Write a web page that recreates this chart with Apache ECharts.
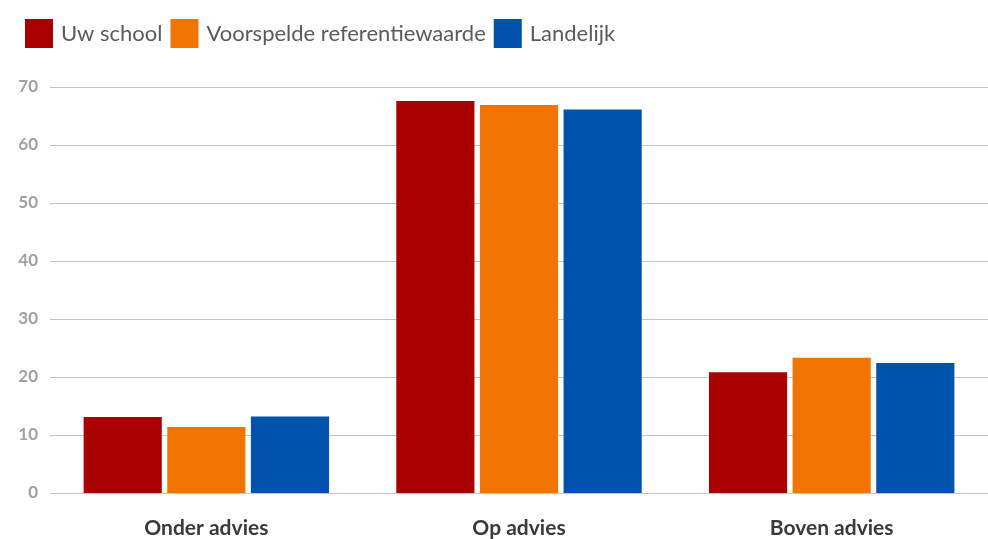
<!DOCTYPE html>
<html><head><meta charset="utf-8">
<script src="https://cdn.jsdelivr.net/npm/echarts@6/dist/echarts.min.js"></script>
<style>html,body{margin:0;padding:0;background:#fff}#c{width:988px;height:539px}</style>
</head><body><div id="c"></div>
<script>
const categories = ['Onder advies', 'Op advies', 'Boven advies'];
const seriesNames = ['Uw school', 'Voorspelde referentiewaarde', 'Landelijk'];
const uwSchool = [13.1, 67.6, 20.8];
const voorspeld = [11.4, 66.9, 23.3];
const landelijk = [13.2, 66.1, 22.4];
const colors = ['#a80000', '#f27400', '#0052aa'];
const values = [uwSchool, voorspeld, landelijk];

const chart = echarts.init(document.getElementById('c'));
chart.setOption({
  animation: false,
  color: colors,
  legend: {
    left: 20, top: 14,
    itemWidth: 28, itemHeight: 29, itemGap: 8,
    icon: 'rect',
    textStyle: { fontFamily: 'Lato', fontSize: 22, color: '#5a5a5a', padding: [0, 0, 0, 3] },
    data: seriesNames
  },
  grid: { left: 50, right: -5, top: 87, bottom: 46 },
  xAxis: {
    type: 'category', data: categories,
    axisLine: { show: false }, axisTick: { show: false },
    axisLabel: { fontFamily: 'Lato', fontSize: 21, fontWeight: 'bold', color: '#3a3a3a', margin: 25 }
  },
  yAxis: {
    type: 'value', min: 0, max: 70, interval: 10,
    axisLabel: { fontFamily: 'Lato', fontSize: 17, color: '#a0a0a0', fontWeight: 'bold', margin: 12 },
    splitLine: { lineStyle: { color: '#c4c4c4', width: 1 } }
  },
  series: values.map((v, i) => ({
    name: seriesNames[i], type: 'bar', data: v,
    barWidth: '25%', barGap: '7%'
  }))
});
</script></body></html>
